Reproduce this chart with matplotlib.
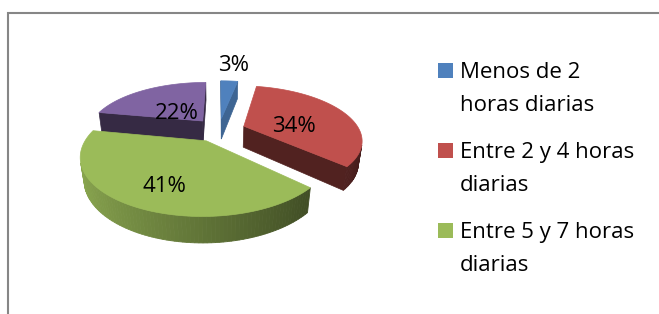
import numpy as np
import matplotlib.pyplot as plt
from matplotlib.patches import Polygon, Rectangle

# Datos
categorias = ['Menos de 2\nhoras diarias', 'Entre 2 y 4 horas\ndiarias',
              'Entre 5 y 7 horas\ndiarias', 'Más de 7 horas diarias']
valores = [3, 34, 41, 22]
colores = ['#4F81BD', '#C0504D', '#9BBB59', '#8064A2']
en_leyenda = [True, True, True, False]

# Parámetros de la vista 3D (pixeles)
W, H = 659, 314
cx, cy = 219, 151          # centro de la base del pastel
fx, fy = 430.0, 448.0      # distancia focal (horizontal / vertical)
D = 3.82                   # distancia de la cámara
alpha = np.radians(28)     # inclinación
h = 0.2                    # grosor
e = 0.23                   # separación de las porciones
r_etiq = [1.8, 0.5, 0.63, 0.42]

ca, sa = np.cos(alpha), np.sin(alpha)
cam = np.array([0.0, -D * ca, D * sa])


def proyectar(X, Y, Z):
    X, Y, Z = np.asarray(X, float), np.asarray(Y, float), np.asarray(Z, float)
    yc = Z * ca + Y * sa
    dc = D + Y * ca - Z * sa
    return cx + fx * X / dc, cy - fy * yc / dc


def sombra(color, k):
    c = np.array(plt.matplotlib.colors.to_rgb(color))
    return tuple(np.clip(c * k, 0, 1))


def visible(normal, punto):
    return np.dot(normal, cam - punto) > 0


fig = plt.figure(figsize=(W / 100, H / 100), dpi=100)
ax = fig.add_axes([0, 0, 1, 1])
ax.set_xlim(0, W)
ax.set_ylim(H, 0)
ax.axis('off')

total = sum(valores)
limites = np.concatenate([[0], np.cumsum(valores)]) / total * 2 * np.pi

porciones = []
for i, v in enumerate(valores):
    t1, t2 = limites[i], limites[i + 1]
    m = (t1 + t2) / 2
    ox, oy = e * np.sin(m), e * np.cos(m)
    porciones.append((i, t1, t2, m, ox, oy))

# de atrás hacia adelante
porciones.sort(key=lambda p: -(p[5] + 0.3 * np.cos(p[3])))

for i, t1, t2, m, ox, oy in porciones:
    col = colores[i]
    # paredes radiales
    for t, lado in ((t1, -1), (t2, 1)):
        nang = t + lado * np.pi / 2
        normal = np.array([np.sin(nang), np.cos(nang), 0])
        centro = np.array([ox + 0.5 * np.sin(t), oy + 0.5 * np.cos(t), h / 2])
        if visible(normal, centro):
            X = [ox, ox, ox + np.sin(t), ox + np.sin(t)]
            Y = [oy, oy, oy + np.cos(t), oy + np.cos(t)]
            Z = [0, h, h, 0]
            u, w = proyectar(X, Y, Z)
            k = 0.78 if i == 0 else 0.42
            ax.add_patch(Polygon(np.column_stack([u, w]), closed=True,
                                 facecolor=sombra(col, k), edgecolor=sombra(col, k),
                                 lw=0.5))
    # pared exterior
    n = max(4, int((t2 - t1) / np.radians(1.5)))
    ts = np.linspace(t1, t2, n + 1)
    for a, b in zip(ts[:-1], ts[1:]):
        c = (a + b) / 2
        normal = np.array([np.sin(c), np.cos(c), 0])
        punto = np.array([ox + np.sin(c), oy + np.cos(c), h / 2])
        if not visible(normal, punto):
            continue
        X = [ox + np.sin(a), ox + np.sin(b), ox + np.sin(b), ox + np.sin(a)]
        Y = [oy + np.cos(a), oy + np.cos(b), oy + np.cos(b), oy + np.cos(a)]
        Z = [h, h, 0, 0]
        u, w = proyectar(X, Y, Z)
        k = 0.62 - 0.28 * np.sin(c)
        ax.add_patch(Polygon(np.column_stack([u, w]), closed=True,
                             facecolor=sombra(col, k), edgecolor=sombra(col, k),
                             lw=0.6))
    # cara superior
    ts = np.linspace(t1, t2, 120)
    X = np.concatenate([[ox], ox + np.sin(ts)])
    Y = np.concatenate([[oy], oy + np.cos(ts)])
    u, w = proyectar(X, Y, np.full(len(X), h))
    ax.add_patch(Polygon(np.column_stack([u, w]), closed=True,
                         facecolor=col, edgecolor=col, lw=0.5))

# etiquetas de porcentaje
fuente = 'Open Sans'
for i, v in enumerate(valores):
    t1, t2 = limites[i], limites[i + 1]
    m = (t1 + t2) / 2
    r = r_etiq[i]
    u, w = proyectar(e * np.sin(m) + r * np.sin(m), e * np.cos(m) + r * np.cos(m),
                     h * 0.65)
    ax.text(u, w, f'{v}%', ha='center', va='center', fontsize=16,
            family=fuente, color='black')

# leyenda
ley_y = [78, 158, 238]
j = 0
for i, nombre in enumerate(categorias):
    if not en_leyenda[i]:
        continue
    yb = ley_y[j]
    ax.add_patch(Rectangle((438, yb - 15), 15, 15, facecolor=colores[i],
                           edgecolor='none'))
    for k, linea in enumerate(nombre.split('\n')):
        ax.text(460, yb + 33 * k, linea, ha='left', va='baseline',
                fontsize=16, family=fuente, color='black')
    j += 1

# marco
ax.plot([7.5, 7.5, W], [H, 12.5, 12.5], color='#868686', lw=1.5,
        solid_joinstyle='miter')

fig.savefig('out.png', dpi=100)
